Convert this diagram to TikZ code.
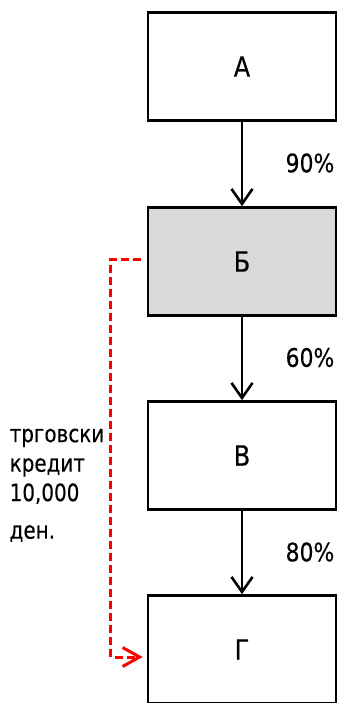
\documentclass[tikz,border=0pt]{standalone}
\usepackage{fontspec}
\setmainfont[FakeStretch=0.86,FakeBold=0.3]{DejaVu Sans}
\newfontfamily\notefont[FakeStretch=0.83,FakeBold=0.3]{DejaVu Sans}
\usetikzlibrary{arrows.meta}
\begin{document}
\begin{tikzpicture}[x=1pt,y=-1pt,
  box/.style={draw,line width=2.6pt,minimum width=188pt,minimum height=108pt,
    font=\fontsize{28}{30}\selectfont},
  flow/.style={line width=2.6pt,-{Straight Barb[length=15pt,width=21pt,line width=2.6pt]}},
  pct/.style={font=\fontsize{25.5}{28}\selectfont},
  loan/.style={red,line width=3pt,dash pattern=on 8pt off 4pt,
    -{Straight Barb[length=17pt,width=19pt,line width=3pt]}}]
\useasboundingbox (0,0) rectangle (339,703);
\clip (0,0) rectangle (339,703);

\node[box] (a) at (242,66.5) {А};
\node[box,fill=black!15] (b) at (242,261.5) {Б};
\node[box] (v) at (242,455.5) {В};
\node[box] (g) at (242,649.5) {Г};

\draw[flow] (a) -- (b);
\draw[flow] (b) -- (v);
\draw[flow] (v) -- (g);

\node[pct] (p1) at (310,163) {90\%};
\node[pct] (p2) at (310,357.5) {60\%};
\node[pct] (p3) at (310,552) {80\%};

\draw[loan] ([xshift=-6pt,yshift=2.5pt]b.west) -- ++(-30,0)
  |- ([xshift=-4pt,yshift=-7.5pt]g.west);
\node[anchor=north west,inner sep=0pt,align=left,
  font=\notefont\fontsize{24}{29.5}\selectfont] (txt) at (9.5,428.5)
  {трговски\\кредит\\10,000\\[8pt]ден.};
\end{tikzpicture}
\end{document}
